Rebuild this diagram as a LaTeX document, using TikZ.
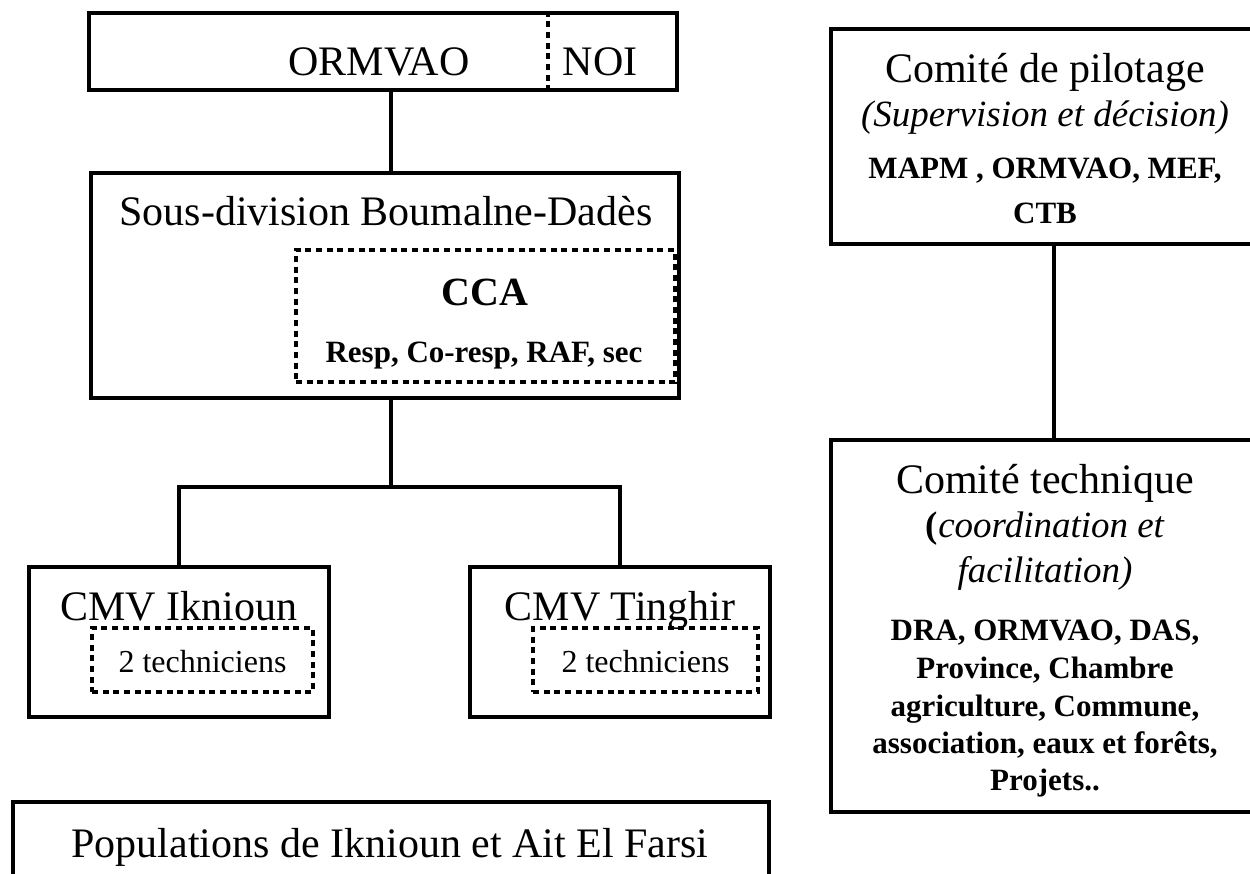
\documentclass[tikz,border=0pt]{standalone}
\usepackage{fontspec}
\setmainfont{Liberation Serif}
\usetikzlibrary{positioning}

\tikzset{
  box/.style={draw, line width=3.5pt, inner sep=0pt},
  dotbox/.style={draw, line width=3.5pt, dash pattern=on 4.5pt off 3.5pt, inner sep=0pt},
  link/.style={line width=3.5pt},
  bigtext/.style={font=\fontsize{31.5}{37}\selectfont, anchor=base, inner sep=0pt},
  itatext/.style={font=\fontsize{27.75}{33}\selectfont\itshape, anchor=base, inner sep=0pt},
  boldtext/.style={font=\fontsize{23.25}{28}\selectfont\bfseries, anchor=base, inner sep=0pt},
  smalltext/.style={font=\fontsize{24}{28}\selectfont, anchor=base, inner sep=0pt}
}

\begin{document}
\begin{tikzpicture}[x=0.75pt, y=-0.75pt]
    \path[use as bounding box, clip] (0,0) rectangle (1250,874);
    \fill[white] (0,0) rectangle (1250,874);

    %Frames
    \node[box, minimum width=441pt, minimum height=57.75pt](ormvao) at (383,51.5){};
    \node[box, minimum width=441pt, minimum height=168.75pt](sousdiv) at (385,285.5){};
    \node[dotbox, minimum width=284.25pt, minimum height=99pt](cca) at (485.5,316){};
    \node[box, minimum width=225pt, minimum height=112.5pt](iknioun) at (179,642){};
    \node[box, minimum width=225pt, minimum height=112.5pt](tinghir) at (620,642){};
    \node[dotbox, minimum width=165.75pt, minimum height=48pt](techA) at (202.5,660){};
    \node[dotbox, minimum width=168.75pt, minimum height=48pt](techB) at (645.5,660){};
    \node[box, minimum width=567pt, minimum height=67.5pt](populations) at (391,847){};
    \node[box, minimum width=323.25pt, minimum height=161.25pt](pilotage) at (1046.5,136.5){};
    \node[box, minimum width=323.25pt, minimum height=279pt](technique) at (1046.5,626){};
    \coordinate (cut) at (548,0);
    \coordinate (split) at (391,487);
    \coordinate (spine) at (1054,0);

    %Texts
    \node[bigtext](ormvao_txt) at (379,75){ORMVAO};
    \node[bigtext](noi_txt) at (600,75){NOI};
    \node[bigtext](sousdiv_txt) at (386,225){Sous-division Boumalne-Dadès};
    \node[boldtext, font=\fontsize{30}{36}\selectfont\bfseries](cca_txt) at (485,305){CCA};
    \node[boldtext](cca_members) at (484,362){Resp, Co-resp, RAF, sec};
    \node[bigtext](iknioun_txt) at (179,620){CMV Iknioun};
    \node[bigtext](tinghir_txt) at (620,620){CMV Tinghir};
    \node[smalltext](techA_txt) at (202.5,672){2 techniciens};
    \node[smalltext](techB_txt) at (645.5,672){2 techniciens};
    \node[bigtext](populations_txt) at (390,857){Populations de Iknioun et Ait El Farsi};
    \node[bigtext](pilotage_title) at (1045,83){Comité de pilotage};
    \node[itatext](pilotage_role) at (1045,127){(Supervision et décision)};
    \node[boldtext](pilotage_m1) at (1045,178){MAPM , ORMVAO, MEF,};
    \node[boldtext](pilotage_m2) at (1045,223){CTB};
    \node[bigtext](technique_title) at (1045,493){Comité technique};
    \node[itatext](technique_role1) at (1045,537){\upshape\bfseries(\mdseries\itshape coordination et};
    \node[itatext](technique_role2) at (1045,582){facilitation)};
    \node[boldtext](technique_m1) at (1045,640){DRA, ORMVAO, DAS,};
    \node[boldtext](technique_m2) at (1045,678){Province, Chambre};
    \node[boldtext](technique_m3) at (1045,716){agriculture, Commune,};
    \node[boldtext](technique_m4) at (1045,753){association, eaux et forêts,};
    \node[boldtext](technique_m5) at (1045,790){Projets..};

    %Lines
    \draw[dotbox] (ormvao.north -| cut) -- (ormvao.south -| cut);
    \draw[link] (ormvao.south -| split) -- (sousdiv.north -| split);
    \draw[link] (sousdiv.south -| split) -- (split);
    \draw[link] (iknioun.north) |- (split) -| (tinghir.north);
    \draw[link] (pilotage.south -| spine) -- (technique.north -| spine);

\end{tikzpicture}
\end{document}
